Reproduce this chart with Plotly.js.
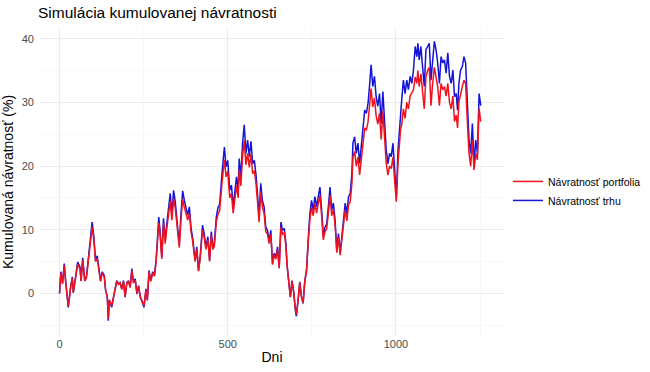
<!DOCTYPE html>
<html>
<head>
<meta charset="utf-8">
<script src="https://cdn.plot.ly/plotly-3.0.1.min.js"></script>
<style>html,body{margin:0;padding:0;background:#fff;}#chart{width:650px;height:372px;}</style>
</head>
<body>
<div id="chart"></div>
<script>
const days = [0,4,9,14,19,26,33,38,41,46,54,61,64,69,75,80,89,97,102,107,112,117,122,127,133,137,142,145,148,155,160,165,170,175,180,185,190,195,200,205,210,215,220,225,230,235,240,244,251,257,261,266,271,277,282,287,292,295,299,304,309,314,319,324,329,334,339,344,349,356,361,366,371,376,381,386,391,396,403,408,413,418,425,430,435,441,446,451,456,460,466,471,476,483,490,495,500,506,511,516,521,526,531,534,539,544,549,554,559,564,569,574,579,584,589,593,598,603,608,613,618,623,628,633,638,643,648,653,658,663,668,673,676,681,686,691,696,701,704,709,714,719,724,729,734,739,744,749,754,759,764,769,774,779,784,789,794,799,804,809,814,819,824,829,834,839,844,849,854,859,864,869,872,877,882,887,892,897,902,907,912,917,922,926,931,936,941,946,951,956,961,966,971,976,981,986,991,996,1001,1006,1011,1014,1017,1022,1027,1032,1037,1042,1047,1052,1057,1062,1065,1069,1074,1079,1084,1089,1094,1099,1104,1109,1114,1119,1124,1129,1134,1139,1144,1149,1154,1159,1164,1169,1174,1179,1183,1187,1192,1197,1202,1207,1212,1217,1222,1227,1232,1237,1242,1247,1252];
const market = [0,3.4,1.6,4.7,1.5,-2.2,1.0,2.6,0.1,2.0,4.9,4.1,2.0,5.6,2.0,2.6,6.8,11.2,8.9,5.2,5.9,3.6,2.0,3.4,2.8,0.5,-0.6,-4.3,-1.1,-2.2,-0.6,0.5,2.0,1.5,1.7,0.7,2.0,-0.6,1.7,2.0,1.0,3.9,1.7,2.3,-0.1,1.2,-0.6,-1.1,-2.2,0.7,-1.1,3.6,2.0,3.4,2.8,5.2,9.4,12.0,9.7,5.7,11.8,8.3,11.0,13.1,15.7,12.3,16.2,14.4,12.0,7.6,12.5,16.1,14.6,13.6,12.3,13.6,10.2,8.6,5.2,7.3,3.6,5.7,10.7,9.4,7.3,8.9,5.2,9.7,7.3,7.8,12.0,13.5,14.0,18.9,23.0,19.9,20.9,16.2,17.0,13.6,15.7,18.3,16.2,21.2,18.3,23.6,26.5,22.0,24.1,21.5,23.9,20.4,20.9,18.6,15.2,12.0,17.3,14.6,13.6,10.4,9.9,8.3,9.9,4.7,6.3,5.7,7.3,4.1,11.2,9.9,10.2,7.8,4.7,2.0,-0.6,2.0,0.2,-2.7,-3.6,-1.1,1.8,-0.6,-1.6,2.0,3.6,8.3,12.5,14.6,13.1,15.2,13.6,15.2,16.7,13.1,8.9,10.4,10.9,13.6,16.7,13.1,14.2,11.5,6.8,9.4,6.3,8.9,11.5,14.2,12.5,15.2,15.7,18.9,23.6,24.6,22.0,23.6,20.4,23.1,25.7,28.8,28.3,29.9,33.0,35.9,32.5,34.1,30.9,29.4,31.4,26.7,31.7,26.7,22.5,20.4,22.0,21.5,23.6,19.4,15.2,22.5,26.7,28.8,30.4,33.5,31.4,33.5,32.0,34.1,33.0,35.1,38.8,37.2,39.3,36.7,38.8,35.6,32.5,38.3,38.8,39.3,33.5,37.2,39.6,38.3,36.2,33.0,37.2,36.2,36.7,34.6,37.8,34.1,33.0,35.1,30.9,31.4,28.8,33.0,35.1,35.6,37.2,36.2,29.4,24.1,22.0,26.7,20.4,24.1,22.0,31.4,29.5];
const portfolio = [0,3.2,1.5,4.4,1.4,-2.0,0.9,2.4,0.1,1.8,4.6,3.8,1.9,5.2,1.9,2.5,6.4,10.4,8.4,5.0,5.5,3.4,1.9,3.2,2.6,0.5,-0.5,-4.0,-1.0,-2.0,-0.5,0.5,1.9,1.4,1.6,0.6,1.9,-0.5,1.6,1.9,0.9,3.6,1.6,2.1,0.0,1.1,-0.5,-1.0,-2.0,0.6,-1.0,3.4,1.9,3.2,2.7,4.9,8.8,11.1,9.1,5.4,11.0,7.8,10.3,12.2,14.5,11.5,14.9,13.4,11.2,7.2,11.6,14.8,13.5,12.6,11.5,12.6,9.6,8.1,5.0,6.9,3.5,5.4,10.0,8.8,6.9,8.4,5.0,9.1,6.9,7.4,11.2,12.5,13.0,17.4,21.0,18.3,19.2,15.0,15.7,12.6,14.5,16.9,15.0,19.5,16.9,21.6,24.0,20.2,22.0,19.8,21.9,18.8,19.3,17.2,14.1,11.2,16.0,13.5,12.6,9.7,9.3,7.8,9.3,4.5,6.0,5.4,6.9,3.9,10.4,9.3,9.5,7.4,4.5,1.9,-0.5,1.9,0.2,-2.5,-3.3,-1.0,1.7,-0.5,-1.5,1.9,3.4,7.8,11.6,13.5,12.2,14.1,12.6,14.1,15.4,12.2,8.4,9.7,10.1,12.6,15.4,12.2,13.2,10.7,6.4,8.8,6.0,8.4,10.7,13.1,11.4,13.9,14.4,17.3,21.4,22.3,20.0,21.4,18.6,21.0,23.3,26.0,25.6,27.0,29.8,32.2,29.3,30.7,27.9,26.6,28.3,24.2,28.6,24.2,20.5,18.6,20.0,19.6,21.4,17.7,14.4,20.5,24.2,26.0,26.5,29.0,27.5,30.0,29.0,31.0,31.5,32.0,34.0,33.0,35.0,32.5,34.5,32.0,29.0,34.0,35.0,35.5,29.5,33.0,35.5,34.0,32.5,29.5,33.0,32.0,32.5,31.0,33.0,30.0,29.0,31.0,27.0,28.0,26.0,30.0,31.5,32.5,33.5,33.0,27.0,22.0,20.0,24.0,19.4,22.0,21.0,29.0,27.0];
const seriesNames = ["Návratnosť portfolia", "Návratnosť trhu"];
const xTicks = [0, 500, 1000];
const yTicks = [0, 10, 20, 30, 40];

const font = "Liberation Sans, Arial, sans-serif";
const traces = [
  {x: days, y: market, type: "scatter", mode: "lines", name: seriesNames[1],
   line: {color: "#1414d6", width: 1.5}},
  {x: days, y: portfolio, type: "scatter", mode: "lines", name: seriesNames[0],
   line: {color: "#f0121e", width: 1.5}}
];
const layout = {
  width: 650, height: 372,
  margin: {l: 40, r: 146, t: 28, b: 36, pad: 0, autoexpand: false},
  paper_bgcolor: "#fff", plot_bgcolor: "#fff",
  font: {family: font, color: "#000"},
  title: {text: "Simulácia kumulovanej návratnosti", xref: "container", x: 38/650, xanchor: "left",
          yref: "container", y: 1 - 13/372, yanchor: "middle", font: {size: 15.5, color: "#000", family: font}},
  xaxis: {range: [-58, 1321], tickvals: xTicks, ticktext: xTicks.map(String), showgrid: true,
          gridcolor: "#ebebeb", gridwidth: 1, zeroline: false, showline: false, ticks: "",
          tickfont: {size: 11, color: "#4d4d4d"}, ticklabelstandoff: 0,
          minor: {tickvals: [250, 750, 1250], showgrid: true, gridcolor: "#f3f3f3", gridwidth: 0.6},
          title: {text: "Dni", font: {size: 14, color: "#000"}, standoff: 3}},
  yaxis: {range: [-6.7, 41.7], tickvals: yTicks, ticktext: yTicks.map(String), showgrid: true,
          gridcolor: "#ebebeb", gridwidth: 1, zeroline: false, showline: false, ticks: "",
          tickfont: {size: 11, color: "#4d4d4d"}, ticklabelstandoff: 5,
          minor: {tickvals: [-5, 5, 15, 25, 35], showgrid: true, gridcolor: "#f3f3f3", gridwidth: 0.6},
          title: {text: "Kumulovaná návratnosť (%)", font: {size: 14, color: "#000"}, standoff: 8}},
  showlegend: true,
  legend: {x: 1.0086, xanchor: "left", y: 0.471, yanchor: "middle", traceorder: "reversed",
           font: {size: 10.5, color: "#000"}, itemwidth: 30, tracegroupgap: 4, bgcolor: "rgba(0,0,0,0)"}
};
Plotly.newPlot("chart", traces, layout, {displayModeBar: false, staticPlot: true});
</script>
</body>
</html>
